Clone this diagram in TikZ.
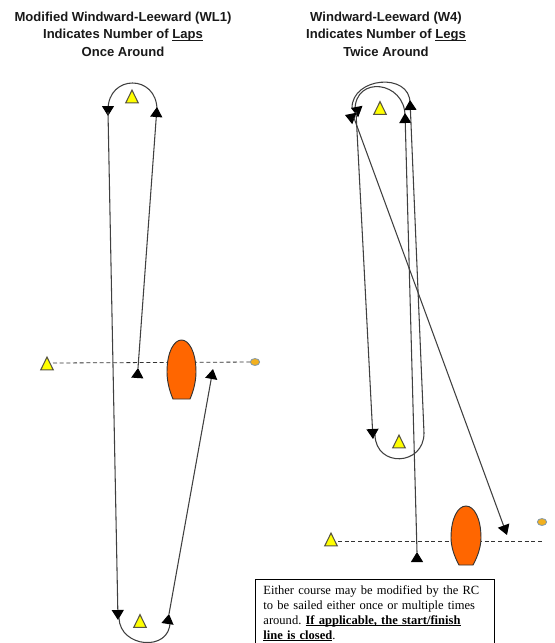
\documentclass[tikz,border=0pt]{standalone}
\usepackage{fontspec}
\setmainfont{Liberation Serif}
\newfontfamily\headfont{Liberation Sans}
\usetikzlibrary{arrows.meta,shapes.geometric}
\definecolor{boatorange}{HTML}{FF6600}
\definecolor{dotorange}{HTML}{F2B01E}
\definecolor{dotline}{HTML}{7F96A8}
\definecolor{markyellow}{HTML}{FFFF00}
\newsavebox\ulbox
\newcommand{\ulined}[1]{\sbox\ulbox{#1}\leavevmode\rlap{\usebox\ulbox}\rule[-1.4pt]{\wd\ulbox}{0.6pt}}
\tikzset{
  head/.style={font=\headfont\bfseries\fontsize{9.8pt}{13pt}\selectfont,align=center,inner sep=0pt,text=black!90},
  marktri/.style={isosceles triangle,shape border rotate=90,isosceles triangle stretches,draw=black!75!yellow,line width=0.8pt,fill=markyellow,minimum width=9.4pt,minimum height=9.6pt,inner sep=0pt},
  boat/.style={draw=black!80,line width=0.7pt,fill=boatorange},
  buoy/.style={ellipse,draw=dotline,line width=0.6pt,fill=dotorange,minimum width=7pt,minimum height=5.2pt,inner sep=0pt},
  leg/.style={draw=black!75,line width=0.8pt},
  tip/.style={-{Triangle[length=7.5pt,width=9pt,fill=black,color=black]}},
  startline/.style={draw=black!80,line width=0.6pt,dash pattern=on 3pt off 2pt},
  notebox/.style={draw=black,line width=0.7pt,fill=white,text width=167pt,inner xsep=6pt,inner ysep=4.5pt,align=left,anchor=north west,font=\frenchspacing\fontsize{9.4pt}{11.25pt}\selectfont}
}
\begin{document}
\begin{tikzpicture}[x=0.75pt,y=-0.75pt]
\useasboundingbox (0,0) rectangle (554,643);
\clip (0,0) rectangle (554,643);
% titles
\node[head] (t1) at (123,34) {Modified Windward-Leeward (WL1)\\Indicates Number of \ulined{Laps}\\Once Around};
\node[head] (t2) at (386,34) {Windward-Leeward (W4)\\Indicates Number of \ulined{Legs}\\Twice Around};
% left course points
\coordinate (la) at (108,116);
\coordinate (lb) at (157,107);
\coordinate (lc) at (138,368);
\coordinate (ld) at (118,620);
\coordinate (le) at (169,614);
\coordinate (lf) at (213,369);
\coordinate (lh) at (255,362);
\coordinate (ls) at (53,363);
% left marks
\draw[startline] (ls) -- (lh);
\node[marktri] (m1) at (132,99) {};
\node[marktri] (m2) at (140,623.5) {};
\node[marktri] (m3) at (47,366) {};
\node[buoy] (b1) at (lh) {};
\path[boat] (173,399) .. controls (169,390) and (167,380) .. (167,372) .. controls (167,352) and (174,340) .. (181.5,340) .. controls (189,340) and (196,352) .. (196,372) .. controls (196,380) and (194,390) .. (190,399) -- cycle;
% left legs
\draw[leg] (108,110) .. controls +(0,-36) and +(0,-36) .. (157,110);
\draw[leg,tip] (108,108) -- (la);
\draw[leg,tip] (108,112) -- (ld);
\draw[leg,tip] (lc) -- (lb);
\draw[leg,tip] (137.3,378) -- (lc);
\draw[leg] (119,618) .. controls +(1,30) and +(0,30) .. (170,622);
\draw[leg,tip] (le) -- (lf);
\draw[leg,tip] (167.5,624) -- (le);
% right course points
\coordinate (ra) at (373,439);
\coordinate (rb) at (410,100);
\coordinate (rc) at (405,113);
\coordinate (rd) at (417,552);
\coordinate (re) at (345,115);
\coordinate (rf) at (507,535);
\coordinate (rg) at (351,108);
\coordinate (rh) at (542,522);
\coordinate (rs) at (338,541);
\coordinate (rt) at (543,541);
% right marks
\draw[startline] (rs) -- (rt);
\node[marktri] (m4) at (380,110.5) {};
\node[marktri] (m5) at (399,444) {};
\node[marktri] (m6) at (331,542) {};
\node[buoy] (b2) at (rh) {};
\path[boat] (459,565) .. controls (454,556) and (451,546) .. (451,538) .. controls (451,518) and (458,506) .. (466,506) .. controls (474,506) and (481,518) .. (481,538) .. controls (481,546) and (478,556) .. (473,565) -- cycle;
% right legs
\draw[leg] (352,108) .. controls +(0,-31) and +(0,-31) .. (410,103);
\draw[leg] (355,110) .. controls +(0,-35) and +(0,-35) .. (405,116);
\draw[leg,tip] (359,111) -- (rg);
\draw[leg,tip] (356,112) -- (ra);
\draw[leg,tip] (rd) -- (rc);
\draw[leg,tip] (417,561) -- (rd);
\draw[leg,tip] (424,433) -- (rb);
\draw[leg] (375,435) .. controls +(1,33) and +(0,33) .. (424,433);
\draw[leg,tip] (354.5,118.5) -- (re);
\draw[leg,tip] (354,118) -- (rf);
% note
\node[notebox] (note) at (255,579) {Either course may be modified by the RC\\to be sailed either once or multiple times\\around. \textbf{\ulined{If applicable, the start/finish}}\\\textbf{\ulined{line is closed}}.\\~\\~};
\end{tikzpicture}
\end{document}
